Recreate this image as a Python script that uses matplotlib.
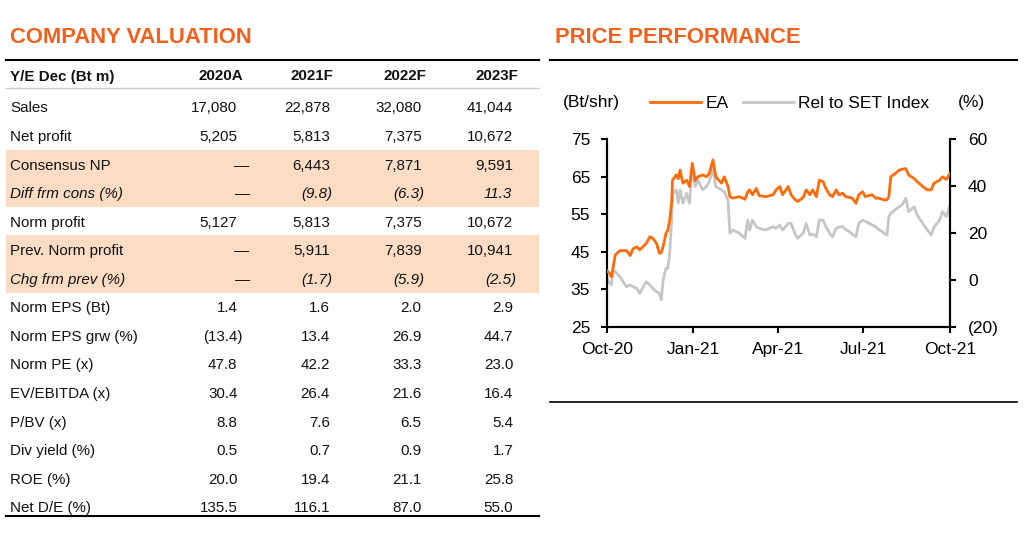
import numpy as np
import pandas as pd
import matplotlib
matplotlib.use('Agg')
import matplotlib.pyplot as plt
import matplotlib.dates as mdates
from matplotlib.patches import Rectangle
from matplotlib.ticker import FuncFormatter

plt.rcParams['font.family'] = ['Liberation Sans', 'DejaVu Sans']

# ---- table data ----
years = ['2020A', '2021F', '2022F', '2023F']
row_labels = ['Sales', 'Net profit', 'Consensus NP', 'Diff frm cons (%)', 'Norm profit',
              'Prev. Norm profit', 'Chg frm prev (%)', 'Norm EPS (Bt)', 'Norm EPS grw (%)',
              'Norm PE (x)', 'EV/EBITDA (x)', 'P/BV (x)', 'Div yield (%)', 'ROE (%)', 'Net D/E (%)']
val_2020 = ['17,080', '5,205', '\u2014', '\u2014', '5,127', '\u2014', '\u2014', '1.4', '(13.4)',
            '47.8', '30.4', '8.8', '0.5', '20.0', '135.5']
val_2021 = ['22,878', '5,813', '6,443', '(9.8)', '5,813', '5,911', '(1.7)', '1.6', '13.4',
            '42.2', '26.4', '7.6', '0.7', '19.4', '116.1']
val_2022 = ['32,080', '7,375', '7,871', '(6.3)', '7,375', '7,839', '(5.9)', '2.0', '26.9',
            '33.3', '21.6', '6.5', '0.9', '21.1', '87.0']
val_2023 = ['41,044', '10,672', '9,591', '11.3', '10,672', '10,941', '(2.5)', '2.9', '44.7',
            '23.0', '16.4', '5.4', '1.7', '25.8', '55.0']
italic_rows = ['Diff frm cons (%)', 'Chg frm prev (%)']
shaded_rows = ['Consensus NP', 'Diff frm cons (%)', 'Prev. Norm profit', 'Chg frm prev (%)']

# ---- price data ----
dates = ['2020-10-01', '2020-10-04', '2020-10-06', '2020-10-08', '2020-10-10', '2020-10-15',
         '2020-10-22', '2020-10-26', '2020-10-29', '2020-11-02', '2020-11-05', '2020-11-12',
         '2020-11-16', '2020-11-19', '2020-11-23', '2020-11-26', '2020-11-28', '2020-11-30',
         '2020-12-03', '2020-12-05', '2020-12-07', '2020-12-09', '2020-12-10', '2020-12-14',
         '2020-12-16', '2020-12-18', '2020-12-21', '2020-12-25', '2020-12-28', '2020-12-31',
         '2021-01-03', '2021-01-06', '2021-01-11', '2021-01-15', '2021-01-18', '2021-01-22',
         '2021-01-25', '2021-01-31', '2021-02-03', '2021-02-07', '2021-02-09', '2021-02-12',
         '2021-02-19', '2021-02-25', '2021-02-28', '2021-03-02', '2021-03-05', '2021-03-09',
         '2021-03-12', '2021-03-19', '2021-03-27', '2021-03-30', '2021-04-03', '2021-04-06',
         '2021-04-12', '2021-04-15', '2021-04-19', '2021-04-22', '2021-04-28', '2021-05-01',
         '2021-05-05', '2021-05-08', '2021-05-12', '2021-05-15', '2021-05-19', '2021-05-22',
         '2021-05-26', '2021-05-29', '2021-06-02', '2021-06-05', '2021-06-09', '2021-06-12',
         '2021-06-16', '2021-06-19', '2021-06-23', '2021-06-26', '2021-06-30', '2021-07-03',
         '2021-07-07', '2021-07-10', '2021-07-14', '2021-07-17', '2021-07-21', '2021-07-24',
         '2021-07-26', '2021-07-28', '2021-07-30', '2021-08-04', '2021-08-08', '2021-08-11',
         '2021-08-15', '2021-08-18', '2021-08-24', '2021-08-27', '2021-09-02', '2021-09-07',
         '2021-09-11', '2021-09-14', '2021-09-20', '2021-09-23', '2021-09-27', '2021-10-01']
ea_price = [40.0, 39.2, 38.3, 41.0, 44.1, 45.3, 45.3, 44.0, 45.8, 46.3, 45.5, 47.2,
            49.0, 48.6, 47.2, 44.6, 44.8, 46.4, 49.9, 50.8, 53.5, 58.0, 64.1, 65.5,
            64.5, 66.8, 63.3, 64.1, 62.4, 68.6, 64.0, 65.0, 65.5, 65.0, 65.9, 69.5,
            65.0, 63.3, 65.0, 62.4, 59.7, 59.3, 59.7, 59.0, 61.0, 61.5, 60.2, 61.9,
            60.0, 59.7, 60.2, 61.5, 62.4, 60.2, 62.4, 60.2, 59.0, 58.4, 59.5, 61.5,
            60.2, 61.5, 59.7, 64.1, 63.7, 61.9, 60.2, 59.7, 61.5, 60.2, 60.6, 59.7,
            59.5, 59.3, 57.9, 60.2, 61.0, 59.7, 60.0, 60.2, 59.3, 59.3, 59.0, 58.8,
            58.9, 59.7, 65.0, 65.9, 66.8, 67.0, 67.2, 65.5, 64.5, 63.7, 62.4, 61.5,
            61.5, 63.3, 64.1, 65.0, 64.3, 65.9]
rel_set = [1.3, -1.5, -2.2, 4.2, 3.5, 1.3, -2.9, -2.2, -2.9, -3.6, -5.8, -0.8,
           -2.2, -3.6, -5.1, -5.8, -8.6, -0.1, 4.9, 4.9, 11.3, 25.5, 36.9, 38.4,
           32.7, 38.4, 32.7, 36.9, 32.7, 48.3, 39.8, 42.6, 38.4, 39.8, 41.9, 47.6,
           39.8, 38.4, 37.6, 34.0, 19.9, 21.3, 19.9, 17.7, 25.5, 21.3, 25.5, 22.7,
           22.0, 21.3, 22.7, 22.0, 23.4, 21.3, 24.1, 24.1, 19.9, 17.7, 19.9, 24.1,
           19.1, 19.5, 18.4, 25.5, 25.5, 22.7, 19.9, 18.4, 22.0, 22.5, 22.7, 21.5,
           20.6, 19.5, 18.4, 24.1, 25.5, 25.0, 24.1, 23.5, 22.7, 21.5, 20.6, 19.5,
           19.1, 27.0, 28.5, 30.0, 31.2, 32.0, 34.8, 29.1, 31.2, 27.7, 24.1, 21.3,
           19.1, 22.5, 25.5, 29.1, 27.0, 32.0]
x_ticks = ['2020-10-01', '2021-01-01', '2021-04-01', '2021-07-01', '2021-10-01']

ORANGE_TITLE = '#F4601A'
ORANGE = '#FF6A0A'
GREY = '#C6C6C6'
PEACH = '#FCDDC4'
INK = '#111111'

W, H = 1024, 539
fig = plt.figure(figsize=(W / 100, H / 100), dpi=100)

# page layer in pixel coordinates
page = fig.add_axes([0, 0, 1, 1])
page.set_xlim(0, W)
page.set_ylim(H, 0)
page.axis('off')

page.text(10, 43, 'COMPANY VALUATION', fontsize=15.8, fontweight='bold', color=ORANGE_TITLE, va='baseline')
page.text(555, 43, 'PRICE PERFORMANCE', fontsize=15.8, fontweight='bold', color=ORANGE_TITLE, va='baseline')

page.plot([6, 539], [59.5, 59.5], color='black', lw=1.5)
page.plot([550, 1017], [59.5, 59.5], color='black', lw=1.5)
page.plot([550, 1017], [401.5, 401.5], color='black', lw=1.2)
page.plot([6, 539], [88, 88], color='#CCCCCC', lw=1.0)
page.plot([6, 539], [516, 516], color='black', lw=1.5)

# table
fs = 10.9
row_y0, row_dy = 107, 28.55
num_right = [237.5, 330.0, 421.7, 513.3]
head_right = [242.7, 333.3, 426.7, 518.0]

page.text(10, 75 + 5.5, 'Y/E Dec (Bt m)', fontsize=fs, fontweight='bold', color=INK, va='baseline')
for yr, xr in zip(years, head_right):
    page.text(xr, 75 + 5.5, yr, fontsize=fs, fontweight='bold', color=INK, va='baseline', ha='right')

cols = [val_2020, val_2021, val_2022, val_2023]
for i, lab in enumerate(row_labels):
    yc = row_y0 + i * row_dy
    if lab in shaded_rows:
        page.add_patch(Rectangle((6, yc - row_dy / 2), 533.3, row_dy, color=PEACH, lw=0, zorder=0))
    style = 'italic' if lab in italic_rows else 'normal'
    page.text(10, yc + 5.5, lab, fontsize=fs, style=style, color=INK, va='baseline')
    for col, xr in zip(cols, num_right):
        v = col[i]
        if v.startswith('('):
            xx = xr + (2.5 if style == 'italic' else 5.3)
        elif v == '\u2014':
            xx = xr + 12
        else:
            xx = xr - (1.5 if style == 'italic' else 0)
        page.text(xx, yc + 5.5, v, fontsize=fs, style=style, color=INK, va='baseline', ha='right')

# chart
d = pd.to_datetime(dates)
ax = fig.add_axes([606.7 / W, 1 - 326.7 / H, (950 - 606.7) / W, (326.7 - 139.3) / H])
ax.patch.set_alpha(0)
ax2 = ax.twinx()

l1, = ax.plot(d, ea_price, color=ORANGE, lw=2.0, zorder=3)
l2, = ax2.plot(d, rel_set, color=GREY, lw=2.0, zorder=2)
ax.set_zorder(ax2.get_zorder() + 1)

ax.set_xlim(pd.Timestamp('2020-10-01'), pd.Timestamp('2021-10-01'))
ax.set_ylim(25, 75)
ax.set_yticks([25, 35, 45, 55, 65, 75])
ax2.set_ylim(-20, 60)
ax2.set_yticks([-20, 0, 20, 40, 60])
ax2.yaxis.set_major_formatter(FuncFormatter(lambda v, p: f'({abs(v):.0f})' if v < 0 else f'{v:.0f}'))
ax.set_xticks(pd.to_datetime(x_ticks))
ax.xaxis.set_major_formatter(mdates.DateFormatter('%b-%y'))

for a in (ax, ax2):
    for s in a.spines.values():
        s.set_linewidth(1.5)
        s.set_color('black')
    a.spines['top'].set_visible(False)
    a.tick_params(direction='out', length=4, width=1.5, labelsize=12.5, colors='black')
ax.tick_params(axis='y', pad=8)
ax2.tick_params(axis='y', pad=9)
ax.tick_params(axis='x', pad=7)

fig.text(563 / W, 1 - 103 / H, '(Bt/shr)', fontsize=12.5, va='center', ha='left')
fig.text(958 / W, 1 - 103 / H, '(%)', fontsize=12.5, va='center', ha='left')
fig.legend([l1, l2], ['EA', 'Rel to SET Index'], loc='center left',
           bbox_to_anchor=(650 / W, 1 - 103 / H), ncol=2, frameon=False, fontsize=12.5,
           handlelength=2.95, handletextpad=0.25, columnspacing=0.8, borderpad=0, borderaxespad=0)

fig.savefig('out.png', dpi=100)
